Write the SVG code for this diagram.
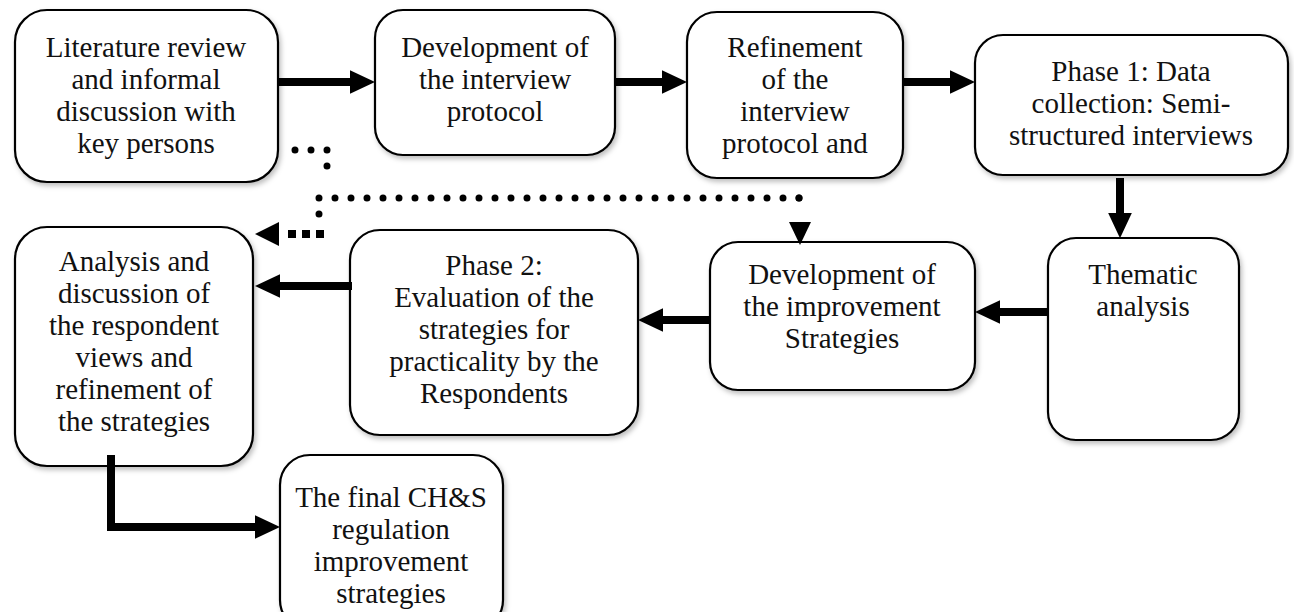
<svg xmlns="http://www.w3.org/2000/svg" width="1294" height="612" viewBox="0 0 1294 612">
<defs>
<filter id="sh" x="-10%" y="-10%" width="125%" height="125%">
<feDropShadow dx="2" dy="3" stdDeviation="2.5" flood-color="#000" flood-opacity="0.25"/>
</filter>
<marker id="ah" markerWidth="3.2" markerHeight="3" refX="0.3" refY="1.5" orient="auto" markerUnits="strokeWidth">
<path d="M0,0 L3.2,1.5 L0,3 Z" fill="#000"/>
</marker>
</defs>
<style>
.box{fill:#fff;stroke:#000;stroke-width:2.2;filter:url(#sh)}
.t{font-family:"Liberation Serif","Times New Roman",serif;font-size:29px;fill:#111;text-anchor:middle}
.arr{fill:none;stroke:#000;stroke-width:8;marker-end:url(#ah)}
.dot{fill:none;stroke:#000;stroke-width:7;stroke-linecap:round;stroke-dasharray:0 16}
</style>
<rect width="1294" height="612" fill="#fff"/>
<g id="n1"><rect class="box" x="15" y="10" width="263" height="172" rx="32"/>
<text class="t"><tspan x="146" y="57">Literature review</tspan><tspan x="146" y="89">and informal</tspan><tspan x="146" y="121">discussion with</tspan><tspan x="146" y="153">key persons</tspan></text></g>
<g id="n2"><rect class="box" x="375" y="10" width="240" height="145" rx="28"/>
<text class="t"><tspan x="495" y="57">Development of</tspan><tspan x="495" y="89">the interview</tspan><tspan x="495" y="121">protocol</tspan></text></g>
<g id="n3"><rect class="box" x="687" y="12" width="216" height="166" rx="30"/>
<text class="t"><tspan x="795" y="57">Refinement</tspan><tspan x="795" y="89">of the</tspan><tspan x="795" y="121">interview</tspan><tspan x="795" y="153">protocol and</tspan></text></g>
<g id="n4"><rect class="box" x="975" y="35" width="313" height="140" rx="28"/>
<text class="t"><tspan x="1131" y="81">Phase 1: Data</tspan><tspan x="1131" y="113">collection: Semi-</tspan><tspan x="1131" y="145">structured interviews</tspan></text></g>
<g id="n5"><rect class="box" x="1048" y="238" width="191" height="202" rx="28"/>
<text class="t"><tspan x="1143" y="284">Thematic</tspan><tspan x="1143" y="316">analysis</tspan></text></g>
<g id="n6"><rect class="box" x="710" y="242" width="265" height="148" rx="28"/>
<text class="t"><tspan x="842" y="284">Development of</tspan><tspan x="842" y="316">the improvement</tspan><tspan x="842" y="348">Strategies</tspan></text></g>
<g id="n7"><rect class="box" x="350" y="230" width="288" height="205" rx="30"/>
<text class="t"><tspan x="494" y="275">Phase 2:</tspan><tspan x="494" y="307">Evaluation of the</tspan><tspan x="494" y="339">strategies for</tspan><tspan x="494" y="371">practicality by the</tspan><tspan x="494" y="403">Respondents</tspan></text></g>
<g id="n8"><rect class="box" x="15" y="227" width="238" height="239" rx="32"/>
<text class="t"><tspan x="134" y="271">Analysis and</tspan><tspan x="134" y="303">discussion of</tspan><tspan x="134" y="335">the respondent</tspan><tspan x="134" y="367">views and</tspan><tspan x="134" y="399">refinement of</tspan><tspan x="134" y="431">the strategies</tspan></text></g>
<g id="n9"><rect class="box" x="280" y="455" width="223" height="175" rx="30"/>
<text class="t"><tspan x="391" y="507">The final CH&amp;S</tspan><tspan x="391" y="539">regulation</tspan><tspan x="391" y="571">improvement</tspan><tspan x="391" y="603">strategies</tspan></text></g>
<g id="connectors">
<path class="arr" d="M278,82 H352"/>
<path class="arr" d="M615,82 H664"/>
<path class="arr" d="M903,82 H952"/>
<path class="arr" d="M1120,178 V215"/>
<path class="arr" d="M1048,312 H998"/>
<path class="arr" d="M710,320 H661"/>
<path class="arr" d="M352,286 H278"/>
<path class="arr" d="M111,455 V527 H257"/>
<path class="dot" d="M295,150 H327 V182"/>
<path class="dot" d="M799,198 H319 V230"/>
<path class="dot" d="M799,198 V214"/>
<path d="M800,222 L789,222 L800,245 L811,222 Z" fill="#000"/>
<path d="M324,234 H282" fill="none" stroke="#000" stroke-width="8" stroke-dasharray="8 6"/>
<path d="M279,222 L255,234 L279,246 Z" fill="#000"/>
</g>
</svg>
